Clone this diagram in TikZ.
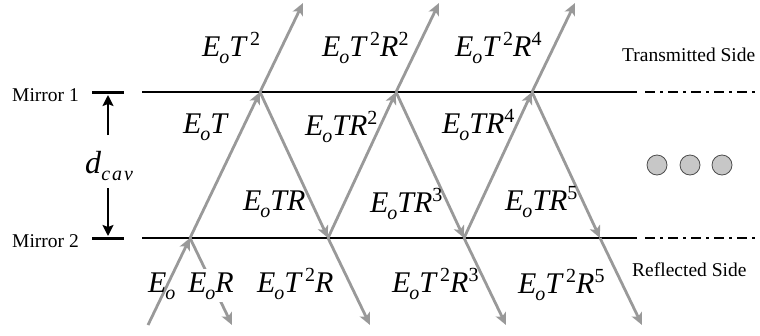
\documentclass[tikz,border=0pt]{standalone}
\usepackage{fontspec}
\setmainfont{Liberation Serif}
\usetikzlibrary{arrows.meta}
\newcommand\sbo[1]{\raisebox{-0.24em}{\fontsize{20}{20}\selectfont\textit{#1}}}
\newcommand\spo[1]{\raisebox{0.36em}{\fontsize{20}{20}\selectfont #1}}
\newcommand\Eo{\textit{E}\kern-0.04em\sbo{o}}
\newcommand\ita[1]{\textit{#1}}
\begin{document}
\begin{tikzpicture}[x=1pt,y=-1pt,
  ray/.style={draw=black!40,line width=2.8pt,-{Stealth[length=12pt,width=11pt,inset=3pt]}},
  mirror/.style={draw=black,line width=1.8pt},
  ext/.style={draw=black,line width=1.8pt,dash pattern=on 10pt off 5pt on 3pt off 5pt},
  lab/.style={anchor=base west,inner sep=0pt,font=\fontsize{30}{30}\selectfont},
  side/.style={anchor=base west,inner sep=0pt,font=\fontsize{19.5}{19.5}\selectfont},
  dot/.style={circle,draw=black!70,fill=black!22,line width=0.8pt,minimum size=20pt,inner sep=0pt},
  darr/.style={draw=black,line width=2pt,-{Stealth[length=11pt,width=11pt,inset=2pt]}}]
\useasboundingbox (0,0) rectangle (760,335);
% mirrors
\coordinate (m1s) at (142,92); \coordinate (m1e) at (637,92); \coordinate (m1x) at (760,92);
\coordinate (m2s) at (142,238); \coordinate (m2e) at (637,238); \coordinate (m2x) at (760,238);
\draw[mirror] (m1s) -- (m1e);
\draw[mirror] (m2s) -- (m2e);
\draw[ext] ([xshift=8pt]m1e) -- (m1x);
\draw[ext] ([xshift=8pt]m2e) -- (m2x);
% ticks
\coordinate (t1a) at (92,92); \coordinate (t1b) at (124,92);
\coordinate (t2a) at (92,238); \coordinate (t2b) at (124,238);
\draw[line width=3pt] (t1a) -- (t1b);
\draw[line width=3pt] (t2a) -- (t2b);
\node[inner sep=0pt,anchor=base west] (dcav) at (85,173) {\fontsize{32}{32}\selectfont\ita{d}\sbo{c\kern0.1em a\kern0.1em v}};
\coordinate (up) at (108,95); \coordinate (dn) at (108,236);
\draw[darr] (108,135) -- (up);
\draw[darr] (108,188) -- (dn);
\node[side] (mir1) at (12,101) {Mirror 1};
\node[side] (mir2) at (12,247) {Mirror 2};
\node[side] (ts) at (622,61) {Transmitted Side};
\node[side] (rs) at (632,276) {Reflected Side};
% dots
\node[dot] (d1) at (657,165) {};
\node[dot] (d2) at (690,165) {};
\node[dot] (d3) at (722,165) {};
% ray points
\coordinate (in) at (148,325);
\coordinate (A) at (190,238);
\coordinate (B) at (260,92);
\coordinate (C) at (328,238);
\coordinate (D) at (396,92);
\coordinate (E) at (464,238);
\coordinate (F) at (532,92);
\coordinate (G) at (600,238);
\coordinate (tB) at (303,3);
\coordinate (tD) at (439,3);
\coordinate (tF) at (575,3);
\coordinate (rA) at (232,325);
\coordinate (rC) at (370,325);
\coordinate (rE) at (506,325);
\coordinate (rG) at (642,325);
\draw[ray] (in) -- (A);
\draw[ray] (A) -- (rA);
\draw[ray] (A) -- (B);
\draw[ray] (B) -- (tB);
\draw[ray] (B) -- (C);
\draw[ray] (C) -- (rC);
\draw[ray] (C) -- (D);
\draw[ray] (D) -- (tD);
\draw[ray] (D) -- (E);
\draw[ray] (E) -- (rE);
\draw[ray] (E) -- (F);
\draw[ray] (F) -- (tF);
\draw[ray] (F) -- (G);
\draw[ray] (G) -- (rG);
% labels
\node[lab] (l1) at (202,56) {\Eo\ita{T}\kern0.08em\spo{2}};
\node[lab] (l2) at (322,56) {\Eo\ita{T}\kern0.08em\spo{2}\ita{R}\spo{2}};
\node[lab] (l3) at (455,56) {\Eo\ita{T}\kern0.08em\spo{2}\ita{R}\spo{4}};
\node[lab] (l4) at (183,133) {\Eo\ita{T}};
\node[lab] (l5) at (305,135) {\Eo\ita{TR}\spo{2}};
\node[lab] (l6) at (442,133) {\Eo\ita{TR}\spo{4}};
\node[lab] (l7) at (243,210) {\Eo\ita{TR}};
\node[lab] (l8) at (370,212) {\Eo\ita{TR}\spo{3}};
\node[lab] (l9) at (505,210) {\Eo\ita{TR}\spo{5}};
\node[lab] (l10) at (148,292) {\Eo};
\node[lab,fill=white,inner ysep=3pt] (l11) at (188,292) {\Eo\ita{R}};
\node[lab] (l12) at (257,292) {\Eo\ita{T}\kern0.08em\spo{2}\ita{R}};
\node[lab] (l13) at (392,292) {\Eo\ita{T}\kern0.08em\spo{2}\ita{R}\spo{3}};
\node[lab] (l14) at (518,293) {\Eo\ita{T}\kern0.08em\spo{2}\ita{R}\spo{5}};
\end{tikzpicture}
\end{document}
